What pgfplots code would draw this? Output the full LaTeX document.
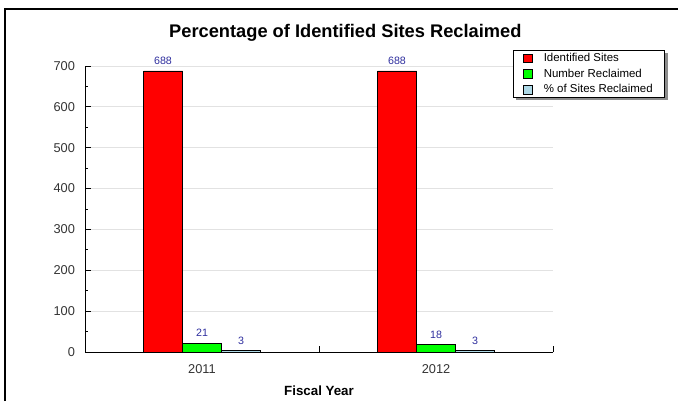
\documentclass[border=0pt]{standalone}
\usepackage{fontspec}
\setmainfont{Liberation Sans}
\usepackage{pgfplots}
\pgfplotsset{compat=1.18}
\definecolor{lblue}{HTML}{ADD8E6}
\definecolor{vlab}{HTML}{2E2E9E}
\definecolor{tlab}{HTML}{333333}
\definecolor{gridc}{HTML}{E2E2E2}
\pgfplotsset{
  sqleg/.style={legend image code/.code={\draw[##1,draw=black,line width=0.6pt] (0pt,-3.3pt) rectangle (6.6pt,3.3pt);}}
}
\begin{document}
\begin{tikzpicture}
\path[use as bounding box] (0pt,0pt) rectangle (508.5pt,300.75pt);
\draw[line width=1.1pt] (3.75pt,0pt) -- (3.75pt,294pt) -- (508.5pt,294pt);
\node[font=\bfseries\fontsize{13.7}{16}\selectfont] at (259pt,276.5pt) {Percentage of Identified Sites Reclaimed};
\fill[black!45] (387pt,225.75pt) rectangle (501pt,261pt);
\begin{axis}[
  at={(63.75pt,36.75pt)}, anchor=south west,
  scale only axis, width=351pt, height=214.5pt,
  xmin=0.5, xmax=2.5, ymin=0, ymax=700,
  axis lines*=left,
  axis line style={line width=0.75pt, black},
  ybar=0pt, bar width=29.25pt,
  /pgf/number format/assume math mode=true,
  ytick={0,100,...,700}, minor y tick num=1,
  ymajorgrids, major grid style={draw=gridc, line width=0.75pt},
  tick align=inside,
  major tick length=4.5pt, minor tick length=2.25pt,
  tick style={black, line width=0.75pt},
  xtick={0.5,1.5,2.5}, xticklabels={},
  extra x ticks={1,2}, extra x tick labels={2011,2012},
  extra x tick style={major tick length=0pt, grid=none},
  ticklabel style={font=\fontsize{9.6}{11}\selectfont, text=tlab},
  yticklabel style={xshift=-4pt},
  xticklabel style={yshift=-6pt},
  xlabel={Fiscal Year},
  xlabel style={font=\bfseries\fontsize{10}{12}\selectfont, yshift=-2.5pt},
  nodes near coords,
  every node near coord/.append style={font=\fontsize{8}{9}\selectfont, text=vlab, yshift=1.2pt},
  legend style={at={(0.9145,1.056)}, anchor=north west, draw=black, fill=white, line width=0.75pt,
    font=\fontsize{8.6}{10}\selectfont, inner xsep=7pt, inner ysep=0pt, row sep=0pt, column sep=6.5pt},
  legend cell align=left,
]
\addplot[fill=red, draw=black, line width=0.6pt, sqleg] coordinates {(1,688) (2,688)};
\addplot[fill=green, draw=black, line width=0.6pt, sqleg] coordinates {(1,21) (2,18)};
\addplot[fill=lblue, draw=black, line width=0.6pt, sqleg] coordinates {(1,3) (2,3)};
\legend{Identified Sites, Number Reclaimed, \% of Sites Reclaimed}
\end{axis}
\end{tikzpicture}
\end{document}
